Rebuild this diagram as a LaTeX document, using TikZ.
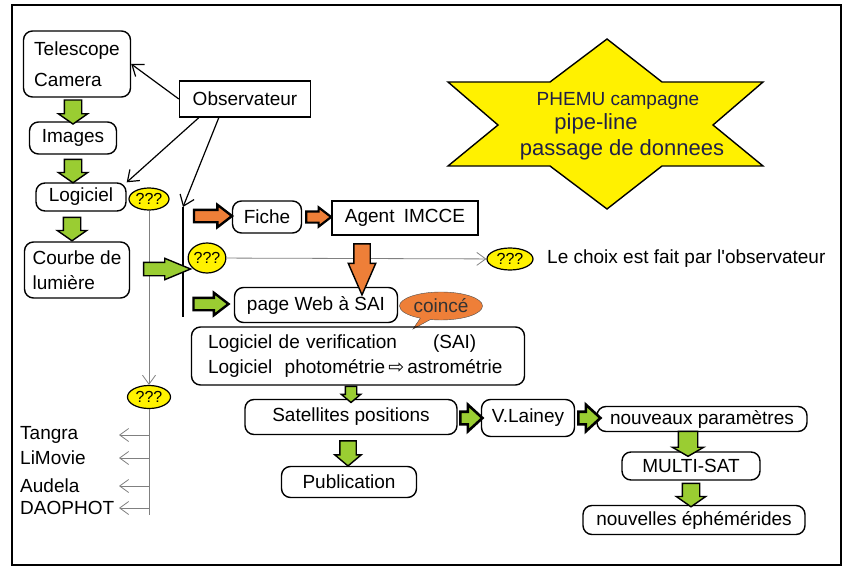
\documentclass[tikz,border=0pt]{standalone}
\usepackage{fontspec}
\setmainfont{Liberation Sans}
\newfontfamily\symfont{DejaVu Sans}
\usetikzlibrary{shapes.geometric, shapes.arrows, shapes.callouts, arrows.meta}
\definecolor{arrowgreen}{HTML}{9ACD32}
\definecolor{arroworange}{HTML}{EE7F38}
\definecolor{qyellow}{HTML}{FFF200}
\definecolor{staryellow}{HTML}{FFF100}
\definecolor{startext}{HTML}{202048}
\tikzstyle{box} = [rectangle, draw, line width=1.4pt, rounded corners=9pt, inner sep=0pt]
\tikzstyle{sharpbox} = [rectangle, draw, line width=1.4pt, inner sep=0pt]
\tikzstyle{qmark} = [ellipse, draw, line width=1.2pt, fill=qyellow, inner sep=0pt, font=\fontsize{16}{16}\selectfont]
\tikzstyle{label} = [inner sep=0pt, anchor=west]
\tikzstyle{pointer} = [line width=1.2pt, -{Straight Barb[length=10pt,width=15pt]}]
\tikzstyle{greyline} = [draw=gray, line width=0.8pt, -{Straight Barb[length=9pt,width=13pt]}]
\tikzset{
  fat/.style n args={4}{single arrow, draw=black, line width=1.4pt, inner sep=#1,
    single arrow head extend=#2, minimum height=#3, single arrow tip angle=#4},
  greenarrow/.style n args={4}{fat={#1}{#2}{#3}{#4}, fill=arrowgreen},
  orangearrow/.style n args={4}{fat={#1}{#2}{#3}{#4}, fill=arroworange}
}

\begin{document}
\begin{tikzpicture}[x=1pt, y=-1pt, font=\fontsize{19}{25}\selectfont]
    \useasboundingbox (0,0) rectangle (848,567);
    % Frame
    \draw [line width=1.6pt] (12,5) rectangle (841,565);

    % Star
    \draw [line width=1.4pt, fill=staryellow] (607,39) -- (662,82) -- (763,82) -- (713,125)
        -- (763,166) -- (662,166) -- (607,209) -- (550,166) -- (448,166) -- (498,125)
        -- (448,82) -- (550,82) -- cycle;
    \node (phemu) [text=startext] at (618,101) {PHEMU campagne};
    \node (pipeline) [text=startext, font=\fontsize{22}{22}\selectfont] at (596,124) {pipe-line};
    \node (passage) [text=startext, font=\fontsize{22}{22}\selectfont] at (622,150) {passage de donnees};

    % Acquisition
    \node (tel) [box, minimum width=107pt, minimum height=66pt, align=left] at (77,64) {Telescope\\[6pt]Camera};
    \node (obs) [sharpbox, minimum width=131pt, minimum height=36pt] at (245,99) {Observateur};
    \node (img) [box, minimum width=87pt, minimum height=32pt] at (73,138) {Images};
    \node (log) [box, minimum width=90pt, minimum height=28pt] at (81,197) {Logiciel};
    \node (qlog) [qmark, minimum width=40pt, minimum height=22pt] at (149,199) {???};
    \node (courbe) [box, minimum width=105pt, minimum height=56pt, align=left] at (77,270) {Courbe de\\lumière};

    % Choice
    \coordinate (bartop) at (183,207);
    \coordinate (barbot) at (183,317);
    \node (fiche) [box, minimum width=69pt, minimum height=32pt] at (267,217) {Fiche};
    \node (agent) [sharpbox, minimum width=146pt, minimum height=34pt] at (405,218) {Agent\hspace{4pt} IMCCE};
    \node (qmid) [qmark, minimum width=36pt, minimum height=30pt] at (207,258) {???};
    \node (qright) [qmark, minimum width=46pt, minimum height=22pt] at (510,259) {???};
    \node (choix) [label] at (547,259) {Le choix est fait par l\textquotesingle observateur};
    \node (web) [box, minimum width=163pt, minimum height=35pt] at (316,305) {page Web à SAI};
    \node (coince) [ellipse callout, draw=black!70, fill=arroworange, minimum width=83pt,
        minimum height=28pt, inner sep=0pt, text=black!80,
        callout absolute pointer={(413,329)}] at (441,306) {coincé};

    % Reduction
    \node (verif) [box, minimum width=333pt, minimum height=58pt, text width=300pt, align=left] at (358,356)
        {Logiciel de verification\hspace{36pt}(SAI)\\Logiciel\hspace{6pt} photométrie\,{\symfont ⇨}\,astrométrie};
    \node (sat) [box, minimum width=212pt, minimum height=35pt] at (351,417) {Satellites positions};
    \node (pub) [box, minimum width=135pt, minimum height=31pt] at (349,482) {Publication};
    \node (lainey) [box, minimum width=93pt, minimum height=37pt] at (528,418) {V.Lainey};
    \node (nouv) [box, minimum width=210pt, minimum height=25pt] at (702,419) {nouveaux paramètres};
    \node (multi) [box, minimum width=138pt, minimum height=28pt] at (691,466) {MULTI-SAT};
    \node (eph) [box, minimum width=222pt, minimum height=29pt] at (694,520) {nouvelles éphémérides};

    % Software
    \node (qlow) [qmark, minimum width=43pt, minimum height=23pt] at (149,397) {???};
    \coordinate (greyend) at (149,515);
    \foreach \name/\y [count=\i] in {Tangra/435, LiMovie/458, Audela/486, DAOPHOT/508} {
        \node (soft\i) [label] at (20,\y) {\name};
        \coordinate (from\i) at (149,\y);
        \coordinate (tip\i) at (119,\y);
        \draw [greyline] (from\i) -- (tip\i);
    }

    % Arrows
    \draw [pointer] (obs.west) -- (tel.east);
    \draw [pointer] ([xshift=20pt]obs.south west) -- (log.north east);
    \draw [pointer] ([xshift=40pt]obs.south west) -- (bartop);
    \draw [line width=2.6pt] (bartop) -- (barbot);
    \draw [greyline] (qmid) -- (qright);
    \draw [greyline] (qlog) -- (qlow);
    \draw [greyline, -] (qlow) -- (greyend);

    % Block arrows
    \node (a1) [greenarrow={8pt}{6pt}{24pt}{110}, rotate=-90] at (73,109) {};
    \node (a2) [greenarrow={8pt}{6pt}{21pt}{110}, rotate=-90] at (73,168) {};
    \node (a3) [greenarrow={8pt}{6pt}{22pt}{110}, rotate=-90] at (72,226) {};
    \node (a4) [greenarrow={6pt}{4pt}{47pt}{45}] at (159,269) {};
    \node (a5) [greenarrow={5pt}{5pt}{35pt}{75}, line width=2.4pt] at (207,304) {};
    \node (a6) [orangearrow={5pt}{5pt}{38pt}{75}, line width=2.4pt] at (209,216) {};
    \node (a7) [orangearrow={4.5pt}{4pt}{25pt}{75}, line width=2.2pt] at (315,217) {};
    \node (a8) [orangearrow={7.5pt}{5.5pt}{51pt}{47}, rotate=-90] at (362,260) {};
    \node (a9) [greenarrow={5pt}{4pt}{14pt}{100}, rotate=-90] at (351,392) {};
    \node (a10) [greenarrow={7.5pt}{5pt}{25pt}{100}, rotate=-90] at (348,450) {};
    \node (a11) [greenarrow={5pt}{7pt}{22pt}{85}, line width=2.6pt] at (468,418) {};
    \node (a12) [greenarrow={5pt}{7pt}{22pt}{85}, line width=2.6pt] at (586,418) {};
    \node (a13) [greenarrow={9pt}{6pt}{18pt}{120}, rotate=-90] at (688,441) {};
    \node (a14) [greenarrow={8pt}{6pt}{21pt}{110}, rotate=-90] at (691,492) {};
\end{tikzpicture}
\end{document}
